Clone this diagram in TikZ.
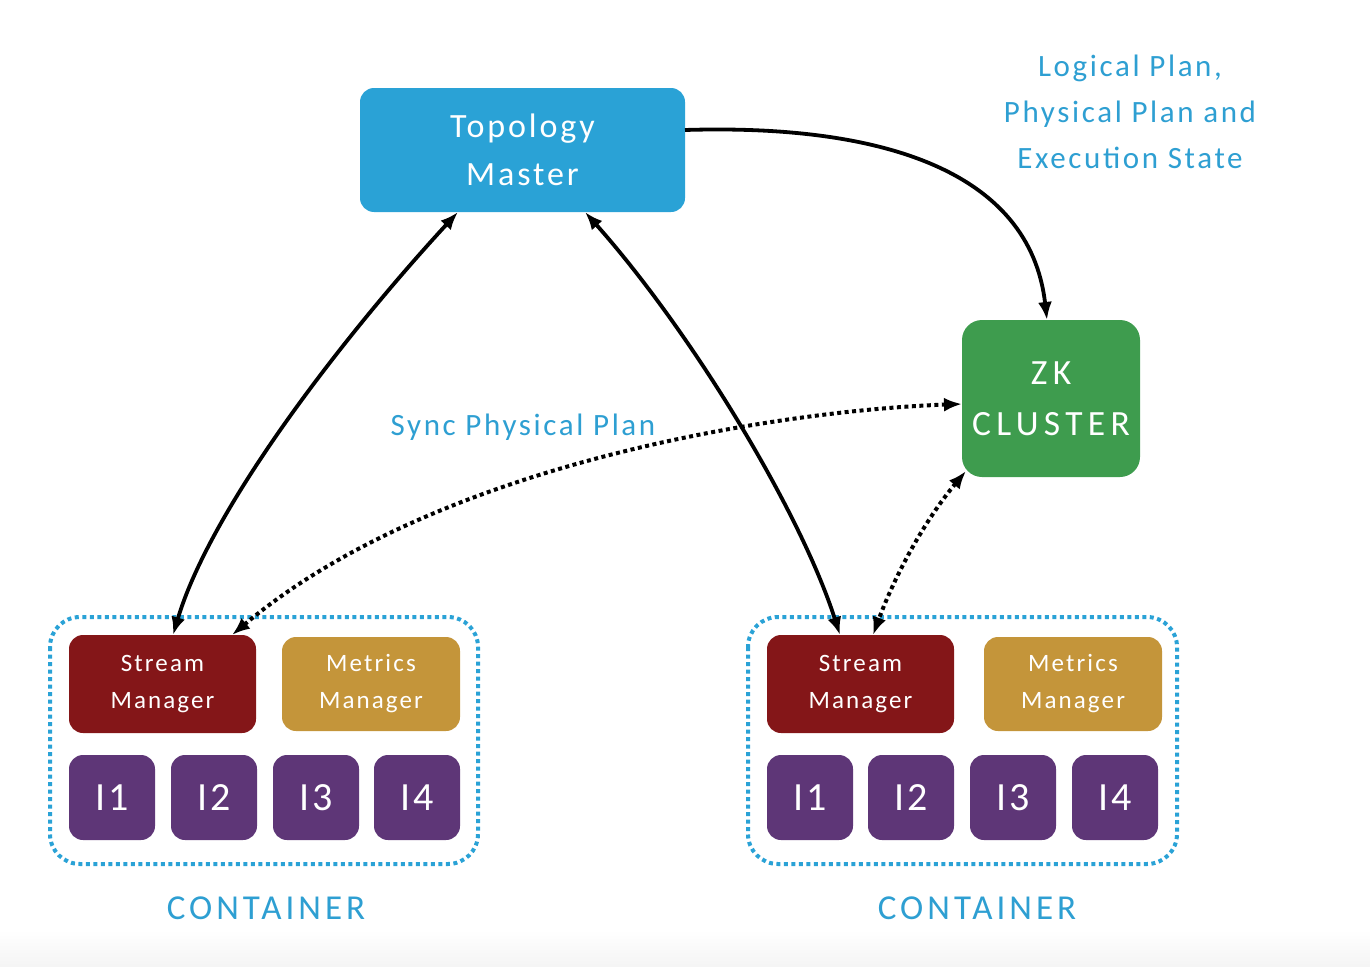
\documentclass[tikz,border=0pt]{standalone}
\usepackage{fontspec}
\setmainfont{Carlito}[LetterSpace=8.5]
\newfontfamily\capsfont{Carlito}[LetterSpace=15]
\newfontfamily\contfont{Carlito}[LetterSpace=11.5]
\usetikzlibrary{arrows.meta,calc}
\definecolor{tmblue}{HTML}{2AA2D6}
\definecolor{zkgreen}{HTML}{3E9C4E}
\definecolor{smred}{HTML}{841618}
\definecolor{mmgold}{HTML}{C4953A}
\definecolor{inpurple}{HTML}{5E3677}
\definecolor{lblblue}{HTML}{2E9FD2}
\tikzset{
  box/.style={rounded corners=14pt, text=white, align=center, inner sep=0pt, anchor=north west, line width=0pt},
  tmbox/.style={box, fill=tmblue, minimum width=325pt, minimum height=124pt, font=\fontsize{34}{48}\selectfont},
  zkbox/.style={box, fill=zkgreen, rounded corners=20pt, minimum width=178pt, minimum height=157pt, font=\capsfont\fontsize{35.5}{51}\selectfont},
  smbox/.style={box, fill=smred, minimum width=187pt, minimum height=98pt, font=\fontsize{25}{37}\selectfont},
  mmbox/.style={box, fill=mmgold, minimum width=178pt, minimum height=94pt, font=\fontsize{25}{37}\selectfont},
  inbox/.style={box, fill=inpurple, minimum width=86pt, minimum height=85pt, font=\fontsize{40}{40}\selectfont},
  cont/.style={draw=tmblue, line width=4pt, dash pattern=on 4pt off 3.5pt, rounded corners=30pt},
  lbl/.style={text=lblblue, align=center, font=\fontsize{31}{46}\selectfont},
  caplbl/.style={text=lblblue, align=center, font=\contfont\fontsize{35}{46}\selectfont},
  conn/.style={line width=3.8pt, {Latex[length=18pt,width=14pt]}-{Latex[length=18pt,width=14pt]}},
  oneway/.style={line width=3.8pt, -{Latex[length=18pt,width=14pt]}},
  dotconn/.style={line width=4pt, dash pattern=on 4pt off 3.5pt, {Latex[length=18pt,width=14pt]}-{Latex[length=18pt,width=14pt]}},
}
\begin{document}
\begin{tikzpicture}[x=1pt,y=-1pt]
\useasboundingbox (0,0) rectangle (1370,966);
\shade[top color=white, bottom color=black!4] (0,930) rectangle (1370,966);

% Topology master and ZK
\node[tmbox] (tm) at (360,88) {Topology\\Master};
\node[zkbox] (zk) at (962,320) {ZK\\CLUSTER};

% Left container
\draw[cont] (50,617) rectangle (478,864);
\node[smbox] (sm1) at (69,635) {Stream\\Manager};
\node[mmbox] (mm1) at (282,637) {Metrics\\Manager};
\node[inbox] (a1) at (69,755) {I1};
\node[inbox] (a2) at (171,755) {I2};
\node[inbox] (a3) at (273,755) {I3};
\node[inbox] (a4) at (374,755) {I4};
\node[caplbl] (c1) at (266,908) {CONTAINER};

% Right container
\draw[cont] (748,617) rectangle (1177,864);
\node[smbox] (sm2) at (767,635) {Stream\\Manager};
\node[mmbox] (mm2) at (984,637) {Metrics\\Manager};
\node[inbox] (b1) at (767,755) {I1};
\node[inbox] (b2) at (868,755) {I2};
\node[inbox] (b3) at (970,755) {I3};
\node[inbox] (b4) at (1072,755) {I4};
\node[caplbl] (c2) at (977,908) {CONTAINER};

% Labels
\node[lbl] (plans) at (1130,112) {Logical Plan,\\Physical Plan and\\Execution State};
\node[lbl] (sync) at (523,427) {Sync Physical Plan};

% Connectors
\coordinate (tmR) at ($(tm.north east)+(0,42)$);
\coordinate (tmB1) at ($(tm.south west)+(98,0)$);
\coordinate (tmB2) at ($(tm.south west)+(225,0)$);
\coordinate (zkT) at ($(zk.north west)+(85,0)$);
\coordinate (zkL) at ($(zk.north west)+(0,84)$);
\coordinate (zkBL) at ($(zk.south west)+(4,-6)$);
\coordinate (sm1T) at ($(sm1.north west)+(104,0)$);
\coordinate (sm1T2) at ($(sm1.north west)+(163,0)$);
\coordinate (sm2T) at ($(sm2.north west)+(73,0)$);
\coordinate (sm2T2) at ($(sm2.north west)+(106,0)$);

\draw[oneway] (tmR) .. controls (880,124) and (1030,170) .. (zkT);
\draw[conn] (tmB1) .. controls (340,340) and (210,510) .. (sm1T);
\draw[conn] (tmB2) .. controls (690,330) and (800,510) .. (sm2T);
\draw[dotconn] (zkL) .. controls (790,410) and (440,460) .. (sm1T2);
\draw[dotconn] (zkBL) .. controls (925,520) and (895,575) .. (sm2T2);
\end{tikzpicture}
\end{document}
